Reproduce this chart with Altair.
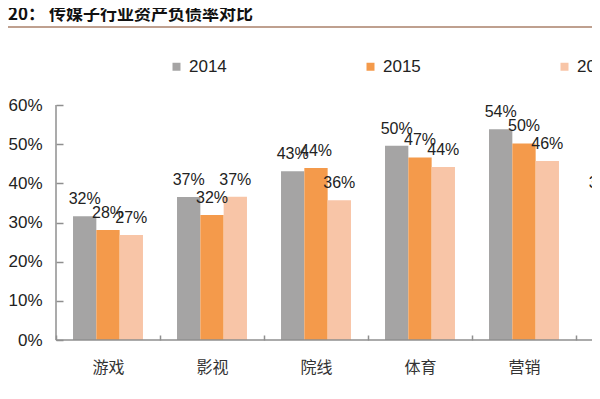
import altair as alt
import pandas as pd

categories = ["游戏", "影视", "院线", "体育", "营销", "其他"]
years = ["2014", "2015", "2016"]
v2014 = [0.316, 0.365, 0.431, 0.496, 0.538, 0.357]
v2015 = [0.281, 0.319, 0.439, 0.466, 0.502, None]
v2016 = [0.268, 0.366, 0.357, 0.442, 0.457, None]
colors = ["#A5A4A4", "#F49A4B", "#F8C5A7"]
y_ticks = [0.0, 0.1, 0.2, 0.3, 0.4, 0.5, 0.6]
title_text = "20： 传媒子行业资产负债率对比"

rows = []
for i, c in enumerate(categories):
    for yr, vals in zip(years, [v2014, v2015, v2016]):
        if vals[i] is not None:
            rows.append({"cat": c, "year": yr, "val": vals[i]})
df = pd.DataFrame(rows)

W, H = 528, 235
FULL = 624  # six category bands; the last one runs past the right edge
FONT = "Liberation Sans"

x_enc = alt.X(
    "cat:N",
    sort=categories,
    scale=alt.Scale(domain=categories, range=[0, FULL], paddingInner=0, paddingOuter=0),
    axis=alt.Axis(
        title=None, domain=False, ticks=True, tickBand="extent", tickSize=5,
        offset=-5, tickColor="#8f8f8f", tickWidth=1.5,
        labelFont="Noto Sans CJK SC", labelFontSize=16, labelColor="#333333",
        labelPadding=19, labelAngle=0, labelOverlap=False,
    ),
)
y_enc = alt.Y(
    "val:Q",
    scale=alt.Scale(domain=[0, 0.6], nice=False, zero=True),
    axis=alt.Axis(
        title=None, values=y_ticks, format=".0%", domain=False, grid=False,
        tickSize=7, offset=-7, tickColor="#8f8f8f", tickWidth=1.5,
        labelPadding=14, labelFontSize=17, labelFont=FONT, labelColor="#222222",
        labelOverlap=False,
    ),
)
xoff_enc = alt.XOffset(
    "year:N", scale=alt.Scale(domain=years, paddingInner=0, paddingOuter=0.73)
)

base = alt.Chart(df).encode(x=x_enc, xOffset=xoff_enc, y=y_enc)

bars = base.mark_bar().encode(
    color=alt.Color(
        "year:N",
        scale=alt.Scale(domain=years, range=colors),
        legend=alt.Legend(
            title=None, orient="none", legendX=112, legendY=-47,
            direction="horizontal", symbolType="square", symbolSize=64,
            symbolStrokeWidth=0, labelFontSize=17, labelFont=FONT,
            labelColor="#222222", columnPadding=135, labelOffset=4, padding=0,
        ),
    ),
)

labels = base.mark_text(
    dy=-12, baseline="alphabetic", align="center", fontSize=16, font=FONT, color="#222222"
).encode(
    text=alt.Text("val:Q", format=".0%"),
)

one = pd.DataFrame({"t": [title_text]})

x_domain = alt.Chart(one).mark_rule(color="#8f8f8f", strokeWidth=1.5).encode(
    x=alt.value(0), x2=alt.value(W + 20), y=alt.value(H)
)
y_domain = alt.Chart(one).mark_rule(color="#8f8f8f", strokeWidth=1.5).encode(
    x=alt.value(0), y=alt.value(0), y2=alt.value(H)
)
title = alt.Chart(one).mark_text(
    align="left", baseline="middle", fontSize=17, fontWeight="bold",
    font="Noto Sans CJK SC", color="#111111"
).encode(text="t:N", x=alt.value(-48), y=alt.value(-90))
underline = alt.Chart(one).mark_rule(color="#BFA08F", strokeWidth=2).encode(
    x=alt.value(-48), x2=alt.value(W + 20), y=alt.value(-78)
)

chart = alt.layer(
    bars, labels, x_domain, y_domain, title, underline
).properties(
    width=W, height=H,
    autosize=alt.AutoSizeParams(type="none"),
    padding={"left": 48, "top": 97, "right": 8, "bottom": 44},
    background="white",
).configure_view(strokeWidth=0)

chart.save("out.html", embed_options={"renderer": "svg", "actions": False})
